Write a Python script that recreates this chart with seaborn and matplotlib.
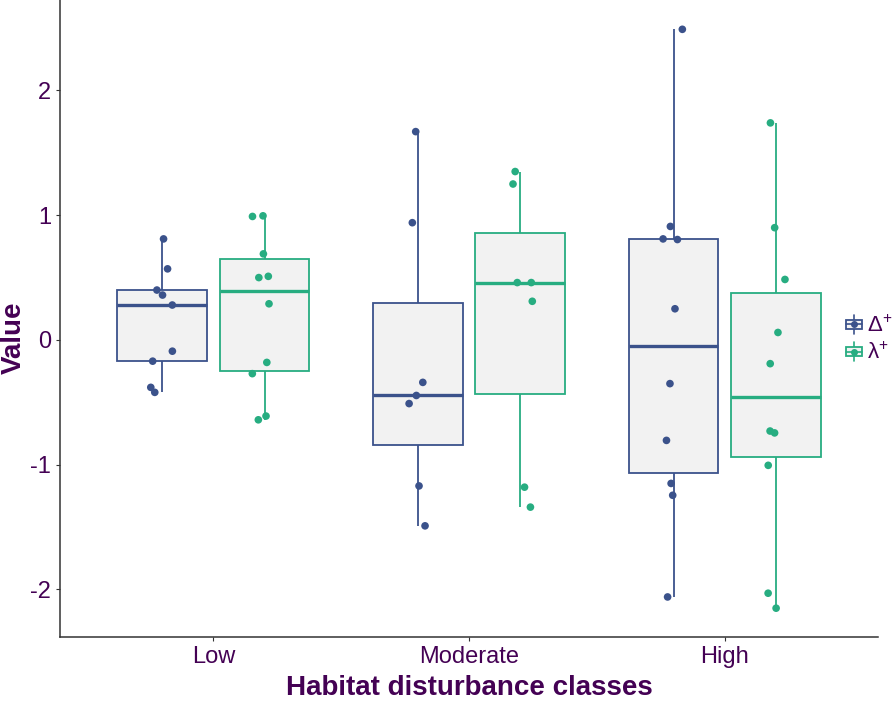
import numpy as np
import pandas as pd
import seaborn as sns
import matplotlib.pyplot as plt
from matplotlib.legend_handler import HandlerBase
from matplotlib.patches import Rectangle, Patch
from matplotlib.lines import Line2D

# values
classes = ["Low", "Moderate", "High"]
metrics = ["Δ+", "λ+"]

delta_low = [0.81, 0.57, 0.40, 0.36, 0.28, -0.09, -0.17, -0.42, -0.38]
delta_moderate = [1.67, 0.94, -0.34, -0.445, -0.51, -1.17, -1.49]
delta_high = [2.49, 0.91, 0.81, 0.805, 0.25, -0.35, -0.805, -1.15, -1.245, -2.06]

lambda_low = [0.995, 0.99, 0.69, 0.51, 0.50, 0.29, -0.18, -0.27, -0.61, -0.64]
lambda_moderate = [1.35, 1.25, 0.46, 0.46, 0.31, -1.18, -1.34]
lambda_high = [1.74, 0.90, 0.485, 0.06, -0.19, -0.73, -0.745, -1.005, -2.03, -2.15]

series = {
    ("Low", "Δ+"): delta_low,
    ("Moderate", "Δ+"): delta_moderate,
    ("High", "Δ+"): delta_high,
    ("Low", "λ+"): lambda_low,
    ("Moderate", "λ+"): lambda_moderate,
    ("High", "λ+"): lambda_high,
}
rows = [(c, m, v) for (c, m), vals in series.items() for v in vals]
df = pd.DataFrame(rows, columns=["cls", "metric", "value"])

colors = {"Δ+": "#3B528B", "λ+": "#27AD81"}
purple = "#440154"

sns.set_theme(style="white")
plt.rcParams["font.family"] = ["Liberation Sans", "DejaVu Sans"]
plt.rcParams["axes.unicode_minus"] = False

fig, ax = plt.subplots(figsize=(8.96, 7.02), dpi=100)
fig.subplots_adjust(left=60 / 896, right=878 / 896, bottom=1 - 637 / 702, top=1.0)

# one boxplot call per metric so each gets its own line colour, gray fill
for m in metrics:
    sns.boxplot(
        data=df[df.metric == m], x="cls", y="value", hue="metric",
        order=classes, hue_order=metrics, dodge=True,
        palette={k: "#F2F2F2" for k in metrics}, linecolor=colors[m],
        width=0.8, gap=0.12, showcaps=False, showfliers=False,
        linewidth=1.3, medianprops={"linewidth": 2.4},
        legend=False, ax=ax,
    )

np.random.seed(3)
sns.stripplot(
    data=df, x="cls", y="value", hue="metric", order=classes, hue_order=metrics,
    palette=colors, dodge=True, jitter=0.1, size=5.5, linewidth=0,
    legend=False, ax=ax, zorder=5,
)

ax.set_xlim(-0.6, 2.6)
ax.set_ylim(-2.381, 2.725)
ax.set_yticks([-2, -1, 0, 1, 2])
ax.set_yticklabels(["-2", "-1", "0", "1", "2"])

ax.set_xlabel("Habitat disturbance classes", fontsize=20, fontweight="bold",
              color=purple, labelpad=5)
ax.set_ylabel("Value", fontsize=20, fontweight="bold", color=purple)
ax.yaxis.set_label_coords(-0.04, 0.47)
ax.tick_params(axis="both", labelsize=17, labelcolor=purple, color="#333333",
               length=3, width=0.8, left=True, bottom=True)

sns.despine(ax=ax)
for s in ["left", "bottom"]:
    ax.spines[s].set_color("#333333")
    ax.spines[s].set_linewidth(1.1)


class BoxKey(HandlerBase):
    def __init__(self, color):
        super().__init__()
        self.color = color

    def create_artists(self, legend, orig_handle, xdescent, ydescent,
                       width, height, fontsize, trans):
        x0, y0 = -xdescent, -ydescent
        cx, cy = x0 + width / 2, y0 + height / 2
        bh = height * 0.62
        whisk = Line2D([cx, cx], [cy - height * 0.62, cy + height * 0.62],
                       color=self.color, lw=1.2, transform=trans)
        box = Rectangle((x0, cy - bh / 2), width, bh, facecolor="#F2F2F2",
                        edgecolor=self.color, lw=1.3, transform=trans)
        med = Line2D([x0, x0 + width], [cy, cy], color=self.color, lw=1.2,
                     transform=trans)
        dot = Line2D([cx], [cy], marker="o", ms=4, color=self.color, lw=0,
                     transform=trans)
        return [whisk, box, med, dot]


handles = [Patch(color=colors[m]) for m in metrics]
labels = [r"$\mathregular{\Delta^{+}}$", r"$\mathregular{\lambda^{+}}$"]
leg = fig.legend(
    handles, labels, handler_map={h: BoxKey(colors[m]) for h, m in zip(handles, metrics)},
    loc="center left", bbox_to_anchor=(846 / 896, 1 - 340 / 702),
    frameon=False, fontsize=16, handlelength=0.7, handleheight=0.72,
    handletextpad=0.25, labelspacing=0.25, borderpad=0, borderaxespad=0,
)
for t in leg.get_texts():
    t.set_color(purple)

fig.savefig("out.png", dpi=100)
